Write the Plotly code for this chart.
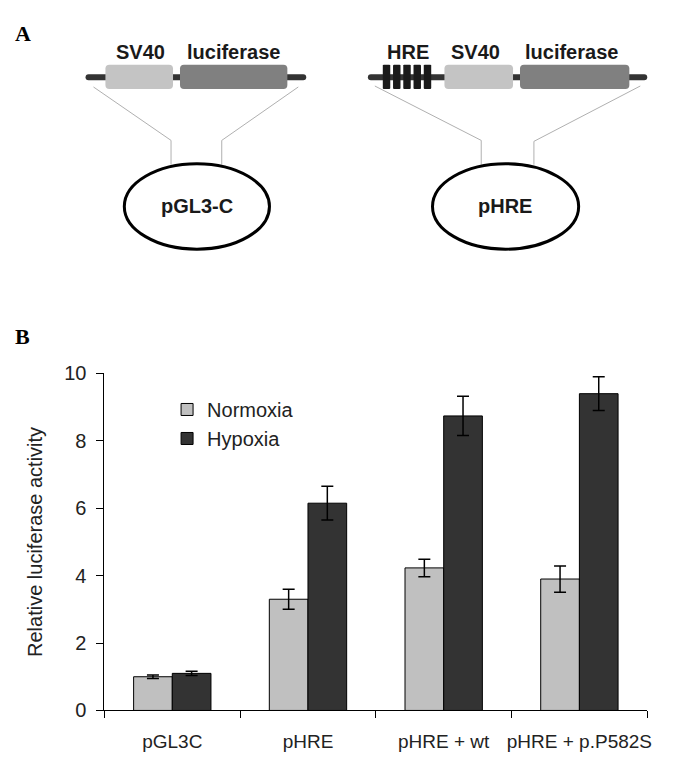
import plotly.graph_objects as go

# ---------------- data ----------------
categories = ["pGL3C", "pHRE", "pHRE + wt", "pHRE + p.P582S"]
normoxia = [1.0, 3.3, 4.23, 3.9]
normoxia_err = [0.05, 0.3, 0.26, 0.39]
hypoxia = [1.1, 6.15, 8.74, 9.4]
hypoxia_err = [0.06, 0.5, 0.58, 0.5]
y_ticks = [0, 2, 4, 6, 8, 10]

W, H = 685, 762


def px(x):
    return x / W


def py(y):
    return 1 - y / H


fig = go.Figure()
fig.add_trace(go.Bar(
    name="Normoxia", x=categories, y=normoxia,
    marker=dict(color="#c0c0c0", line=dict(color="black", width=1)),
    error_y=dict(type="data", array=normoxia_err, color="black", thickness=1.5, width=6),
))
fig.add_trace(go.Bar(
    name="Hypoxia", x=categories, y=hypoxia,
    marker=dict(color="#333333", line=dict(color="black", width=1)),
    error_y=dict(type="data", array=hypoxia_err, color="black", thickness=1.5, width=6),
))

shapes = []
annotations = []


def rrect(x0, y0, x1, y1, r, fill):
    # rounded rectangle in pixel coords -> paper path
    p = (f"M {px(x0+r)},{py(y0)} L {px(x1-r)},{py(y0)} "
         f"Q {px(x1)},{py(y0)} {px(x1)},{py(y0+r)} "
         f"L {px(x1)},{py(y1-r)} Q {px(x1)},{py(y1)} {px(x1-r)},{py(y1)} "
         f"L {px(x0+r)},{py(y1)} Q {px(x0)},{py(y1)} {px(x0)},{py(y1-r)} "
         f"L {px(x0)},{py(y0+r)} Q {px(x0)},{py(y0)} {px(x0+r)},{py(y0)} Z")
    shapes.append(dict(type="path", xref="paper", yref="paper", path=p,
                       fillcolor=fill, line=dict(width=0)))


def line(pts, color="#b0b0b0", width=1):
    p = "M " + " L ".join(f"{px(x)},{py(y)}" for x, y in pts)
    shapes.append(dict(type="path", xref="paper", yref="paper", path=p,
                       line=dict(color=color, width=width)))


def ellipse(x0, y0, x1, y1):
    shapes.append(dict(type="circle", xref="paper", yref="paper",
                       x0=px(x0), x1=px(x1), y0=py(y1), y1=py(y0),
                       line=dict(color="black", width=3), fillcolor="rgba(0,0,0,0)"))


def text(x, y, s, size=20, bold=True, family="Liberation Sans", color="#1a1a1a"):
    annotations.append(dict(xref="paper", yref="paper", x=px(x), y=py(y),
                            text=f"<b>{s}</b>" if bold else s, showarrow=False,
                            xanchor="center", yanchor="middle",
                            font=dict(family=family, size=size, color=color)))


BB_Y0, BB_Y1 = 57, 63
BOX_Y0, BOX_Y1 = 47, 72
LAB_Y = 34

# left construct
rrect(78, BB_Y0, 300, BB_Y1, 3, "#333333")
rrect(98, BOX_Y0, 166, BOX_Y1, 4, "#c4c4c4")
rrect(173, BOX_Y0, 281, BOX_Y1, 4, "#808080")
text(133, LAB_Y, "SV40")
text(227, LAB_Y, "luciferase")
line([(86, 70), (164, 125), (164, 150)])
line([(292, 70), (215, 125), (215, 150)])
ellipse(117, 149, 263, 237)
text(190, 193, "pGL3-C")

# right construct
rrect(362, BB_Y0, 643, BB_Y1, 3, "#333333")
for i in range(5):
    x0 = 377 + i * 10.3
    rrect(x0, BOX_Y0, x0 + 7.5, BOX_Y1, 1, "#1a1a1a")
rrect(439, BOX_Y0, 508, BOX_Y1, 4, "#c4c4c4")
rrect(515, BOX_Y0, 625, BOX_Y1, 4, "#808080")
text(402, LAB_Y, "HRE")
text(470, LAB_Y, "SV40")
text(567, LAB_Y, "luciferase")
line([(369, 69), (476, 125), (476, 150)])
line([(636, 69), (529, 126), (529, 150)])
ellipse(427, 149, 574, 237)
text(500, 193, "pHRE")

# panel letters
text(15, 15, "A", size=22, family="Liberation Serif", color="black")
text(15, 327, "B", size=22, family="Liberation Serif", color="black")

fig.update_layout(
    width=W, height=H,
    margin=dict(l=0, r=0, t=0, b=0),
    paper_bgcolor="white", plot_bgcolor="white",
    barmode="group", bargap=0.43, bargroupgap=0,
    font=dict(family="Liberation Sans", size=19, color="#222222"),
    shapes=shapes, annotations=annotations,
    legend=dict(x=px(160), y=py(382), xanchor="left", yanchor="top",
                bgcolor="rgba(0,0,0,0)", font=dict(size=20, color="#222222")),
    xaxis=dict(domain=[px(97), px(643)], type="category", tickson="boundaries",
               ticks="outside", ticklen=7, tickcolor="black", showline=True,
               linecolor="black", linewidth=1, showgrid=False, tickangle=0,
               ticklabelstandoff=14,
               tickfont=dict(size=19, color="#222222")),
    yaxis=dict(domain=[py(712), py(365)], range=[0, 10], tickvals=y_ticks,
               ticks="outside", ticklen=7, tickcolor="black", showline=True,
               linecolor="black", linewidth=1, showgrid=False, zeroline=False,
               ticklabelstandoff=6,
               tickfont=dict(size=20, color="#222222"),
               title=dict(text="Relative luciferase activity", standoff=16,
                          font=dict(size=20, color="#222222"))),
)

fig.write_html("out.html")
